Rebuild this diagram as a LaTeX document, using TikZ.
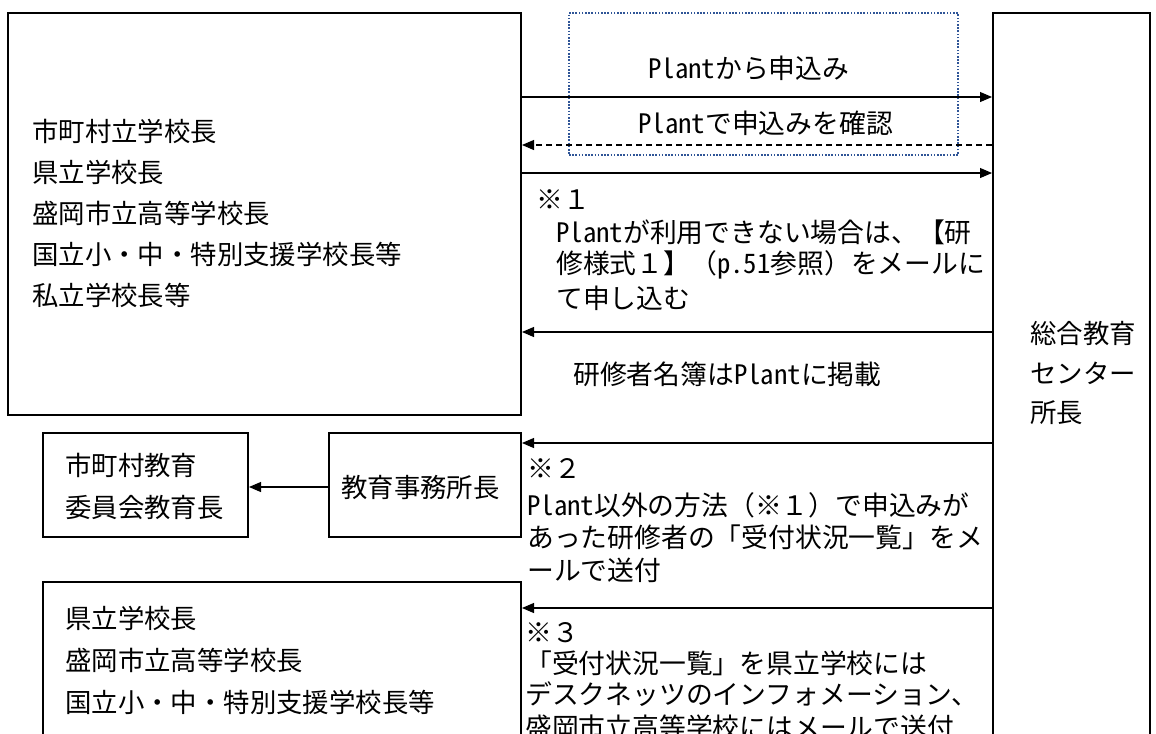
\documentclass[tikz,border=0pt]{standalone}
\usepackage{fontspec}
\setmainfont{Noto Sans CJK JP}
\newfontfamily\hwfont{Noto Sans CJK JP}[RawFeature=+hwid]
\newcommand{\hw}[1]{{\hwfont #1}}
\usetikzlibrary{fit,arrows.meta}
\definecolor{dotblue}{HTML}{2F5597}
\begin{document}
\begin{tikzpicture}[x=0.75pt,y=-0.75pt,
  box/.style={draw, line width=1.5pt, inner sep=0pt},
  txt/.style={font=\fontsize{19.8}{24}\selectfont, inner sep=0pt, anchor=west},
  rtxt/.style={txt, font=\fontsize{20.1}{24}\selectfont},
  arr/.style={line width=0.8pt, -{Triangle[length=9pt,width=7.5pt]}},
  darr/.style={arr, dash pattern=on 4.5pt off 3pt},
  webbox/.style={draw=dotblue, line width=1.2pt, dash pattern=on 1.2pt off 1.2pt, inner sep=0pt}
]
\useasboundingbox (0,0) rectangle (1156,733);
% boxes
\node[box, fit={(8,13) (521,415)}] (main) {};
\node[box, fit={(993,13) (1150,760)}] (ctr) {};
\node[box, fit={(43,433) (248,537)}] (moe) {};
\node[box, fit={(329,433) (521,537)}] (off) {};
\node[box, fit={(43,582) (521,760)}] (pref) {};
\node[webbox, fit={(569,13) (958,155)}] (web) {};
% arrow levels
\coordinate (yA) at (0,97);
\coordinate (yB) at (0,145);
\coordinate (yC) at (0,173);
\coordinate (yD) at (0,332);
\coordinate (yE) at (0,443);
\coordinate (yF) at (0,487);
\coordinate (yG) at (0,608);
\draw[arr] (main.east |- yA) -- (ctr.west |- yA);
\draw[darr] (ctr.west |- yB) -- (main.east |- yB);
\draw[arr] (main.east |- yC) -- (ctr.west |- yC);
\draw[arr] (ctr.west |- yD) -- (main.east |- yD);
\draw[arr] (ctr.west |- yE) -- (off.east |- yE);
\draw[arr] (off.west |- yF) -- (moe.east |- yF);
\draw[arr] (ctr.west |- yG) -- (pref.east |- yG);
% main box text
\node[txt] (m1) at (32,131) {市町村立学校長};
\node[txt] (m2) at (32,172) {県立学校長};
\node[txt] (m3) at (32,213) {盛岡市立高等学校長};
\node[txt] (m4) at (32,254) {国立小・中・特別支援学校長等};
\node[txt] (m5) at (32,295) {私立学校長等};
% web labels
\node[rtxt] (w1) at (648,68) {\hw{Plant}から申込み};
\node[rtxt] (w2) at (638,123) {\hw{Plant}で申込みを確認};
% note 1
\node[rtxt] (n1a) at (536,200) {※１};
\node[rtxt] (n1b) at (556,232) {\hw{Plant}が利用できない場合は、【研};
\node[rtxt] (n1c) at (556,265) {修様式１】（\hw{p.51}参照）をメールに};
\node[rtxt] (n1d) at (556,298) {て申し込む};
\node[rtxt] (ros) at (573,374) {研修者名簿は\hw{Plant}に掲載};
% centre
\node[txt] (c1) at (1030,333) {総合教育};
\node[txt] (c2) at (1030,373) {センター};
\node[txt] (c3) at (1030,413) {所長};
% small boxes
\node[txt] (e1) at (65,465) {市町村教育};
\node[txt] (e2) at (65,507) {委員会教育長};
\node[txt] (o1) at (341,487) {教育事務所長};
% note 2
\node[rtxt] (n2a) at (527,468) {※２};
\node[rtxt] (n2b) at (527,505) {\hw{Plant}以外の方法（※１）で申込みが};
\node[rtxt] (n2c) at (527,537) {あった研修者の「受付状況一覧」をメ};
\node[rtxt] (n2d) at (527,570) {ールで送付};
% bottom box
\node[txt] (p1) at (65,618) {県立学校長};
\node[txt] (p2) at (65,660) {盛岡市立高等学校長};
\node[txt] (p3) at (65,702) {国立小・中・特別支援学校長等};
% note 3
\node[rtxt] (n3a) at (525,633) {※３};
\node[rtxt] (n3b) at (525,663) {「受付状況一覧」を県立学校には};
\node[rtxt] (n3c) at (525,694) {デスクネッツのインフォメーション、};
\node[rtxt] (n3d) at (525,727) {盛岡市立高等学校にはメールで送付};
\end{tikzpicture}
\end{document}
